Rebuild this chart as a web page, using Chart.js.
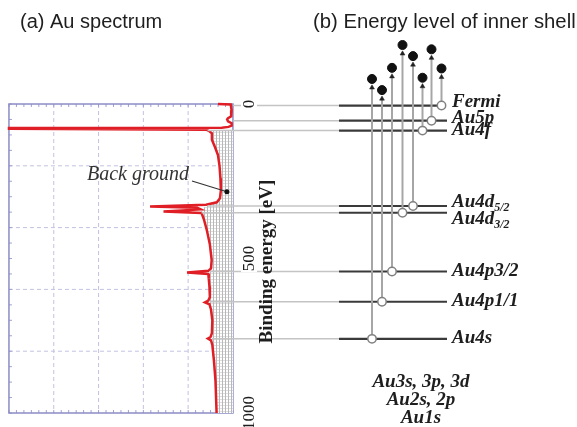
<!DOCTYPE html>
<html lang="en">
<head>
<meta charset="UTF-8"/>
<title>Au spectrum and inner shell levels</title>
<script src="https://cdn.jsdelivr.net/npm/chart.js"></script>
<style>
  body { margin: 0; background: #fff; }
  canvas { display: block; }
</style>
</head>
<body>
<canvas id="c" width="577" height="427"></canvas>
<script>
// (a) spectrum: binding energy [eV] and intensity (% of box width, peaks grow to the left)
const specEnergy = [0, 1.5, 20, 40, 46, 50, 56, 62, 70, 74,
    76.5, 77.5, 80, 83, 88, 95, 116, 140, 165, 200,
    240, 280, 305, 318, 326, 332, 336, 341, 348, 353,
    375, 410, 455, 505, 532, 540, 545, 550, 565, 590,
    625, 636, 642, 648, 665, 700, 742, 754, 759, 765,
    780, 830, 895, 1000];
const specIntensity = [6.7, 1.0, 0.6, 0.8, 2.2, 2.6, 2.2, 0.6, 0.6, 2.0,
    5.0, 100, 100, 12, 10.5, 9.4, 9.4, 8.0, 6.7, 6.0,
    5.6, 5.4, 5.8, 7.2, 12, 37, 16, 14.5, 31, 14,
    12.9, 11.6, 10.3, 9.5, 9.8, 11, 20.5, 11, 10.8, 10.5,
    10.3, 11, 12.5, 10.5, 9.8, 9.2, 9.4, 10, 11.2, 9.8,
    9.2, 8.5, 7.8, 7.3];
// background under the peaks (hatched area)
const bgEnergy = [83, 95, 116, 140, 165, 200, 240, 280, 305, 318,
    326, 335, 345, 353, 375, 410, 455, 505, 532, 545,
    565, 590, 625, 642, 665, 700, 742, 759, 780, 830,
    895, 1000];
const bgIntensity = [12, 9.4, 9.4, 8.0, 6.7, 6.0, 5.6, 5.4, 5.8, 7.2,
    10, 13, 14, 14, 12.9, 11.6, 10.3, 9.5, 9.8, 10.5,
    10.8, 10.5, 10.3, 10.3, 9.8, 9.2, 9.4, 9.4, 9.2, 8.5,
    7.8, 7.3];

// (b) inner shell levels, '|' marks a subscript
const levelNames = ['Fermi', 'Au5p', 'Au4f', 'Au4d|5/2', 'Au4d|3/2', 'Au4p3/2', 'Au4p1/1', 'Au4s'];
const levelEnergy = [5, 54, 86, 330, 352, 542, 640, 760];
// height of each emitted electron on the same energy axis
const electronEnergy = [-115, -177, -85, -155, -191, -117, -45, -81];
const deepLevels = ['Au3s, 3p, 3d', 'Au2s, 2p', 'Au1s'];

const energyTicks = [0, 500, 1000];
const gridEnergy = [200, 400, 600, 800];
const gridIntensity = [20, 40, 60, 80];

// layout of the diagram (pixels on the x scale)
const levelLeft = 339, levelRight = 447, fermiRight = 441;
const transX = [441.5, 431.5, 422.5, 413, 402.5, 392, 382, 372];
const labelX = 452;
const labelDy = [1.5, 2.5, 4.5, 1.5, 11, 4.5, 4.5, 4.5];
const arrowGap = 28;

const canvas = document.getElementById('c');
const ctx0 = canvas.getContext('2d');

// fine grey hatch for the background area
const pat = document.createElement('canvas');
pat.width = 3; pat.height = 3;
const pc = pat.getContext('2d');
pc.fillStyle = '#ffffff'; pc.fillRect(0, 0, 3, 3);
pc.fillStyle = '#b8b8b8'; pc.fillRect(0, 0, 1, 3);
pc.fillStyle = '#dedede'; pc.fillRect(1, 0, 2, 1);
const hatch = ctx0.createPattern(pat, 'repeat');

function bgAt(e) {
    if (e < bgEnergy[0]) return 0;
    for (let k = 1; k < bgEnergy.length; k++) {
        if (e <= bgEnergy[k]) {
            const f = (e - bgEnergy[k - 1]) / (bgEnergy[k] - bgEnergy[k - 1]);
            return bgIntensity[k - 1] + f * (bgIntensity[k] - bgIntensity[k - 1]);
        }
    }
    return bgIntensity[bgIntensity.length - 1];
}

const serif = '"Liberation Serif", "Times New Roman", serif';
const sans = '"Liberation Sans", Arial, sans-serif';

const diagram = {
    id: 'diagram',
    beforeDatasetsDraw(chart) {
        const {ctx, scales: {xi, y}} = chart;
        const l = xi.getPixelForValue(100), r = xi.getPixelForValue(0);
        const t = y.getPixelForValue(0), b = y.getPixelForValue(1000);
        ctx.save();
        ctx.strokeStyle = '#c2c2e2';
        ctx.lineWidth = 1;
        ctx.setLineDash([4, 3]);
        gridIntensity.forEach(v => {
            const px = xi.getPixelForValue(v);
            ctx.beginPath(); ctx.moveTo(px, t); ctx.lineTo(px, b); ctx.stroke();
        });
        gridEnergy.forEach(v => {
            const py = y.getPixelForValue(v);
            ctx.beginPath(); ctx.moveTo(l, py); ctx.lineTo(r, py); ctx.stroke();
        });
        ctx.setLineDash([]);
        ctx.strokeStyle = '#a0a0d4';
        for (let v = 0; v <= 100; v += 100 / 30) {
            const px = xi.getPixelForValue(v);
            ctx.beginPath(); ctx.moveTo(px, t); ctx.lineTo(px, t + 3); ctx.stroke();
            ctx.beginPath(); ctx.moveTo(px, b); ctx.lineTo(px, b - 3); ctx.stroke();
        }
        for (let e = 0; e <= 1000; e += 50) {
            const py = y.getPixelForValue(e);
            ctx.beginPath(); ctx.moveTo(l, py); ctx.lineTo(l + 3, py); ctx.stroke();
        }
        ctx.strokeStyle = '#8c8cc6';
        ctx.lineWidth = 1.5;
        ctx.strokeRect(l, t, r - l, b - t);
        ctx.restore();
    },
    afterDatasetsDraw(chart) {
        const {ctx, scales: {x, xi, y}} = chart;
        ctx.save();
        ctx.strokeStyle = '#c4c4c4';
        ctx.lineWidth = 1.5;
        levelEnergy.forEach(e => {
            const py = y.getPixelForValue(e);
            ctx.beginPath();
            ctx.moveTo(xi.getPixelForValue(bgAt(e)), py);
            ctx.lineTo(x.getPixelForValue(levelLeft), py);
            ctx.stroke();
        });
        ctx.restore();
    },
    afterDraw(chart) {
        const {ctx, scales: {x, xi, y}} = chart;
        ctx.save();
        ctx.fillStyle = '#1e1e1e';
        ctx.textBaseline = 'alphabetic';
        ctx.font = '20px ' + sans;
        ctx.fillText('(a) Au spectrum', 20, 28);
        ctx.font = '20.3px ' + sans;
        ctx.fillText('(b) Energy level of inner shell', 313, 28);

        // background pointer
        ctx.font = 'italic 20px ' + serif;
        ctx.fillStyle = '#333';
        ctx.textAlign = 'right';
        ctx.fillText('Back ground', 189, 180);
        const dx = xi.getPixelForValue(2.7), dy = y.getPixelForValue(284);
        ctx.strokeStyle = '#333';
        ctx.lineWidth = 1.2;
        ctx.beginPath(); ctx.moveTo(192, 181); ctx.lineTo(dx, dy); ctx.stroke();
        ctx.fillStyle = '#111';
        ctx.beginPath(); ctx.arc(dx, dy, 2.5, 0, Math.PI * 2); ctx.fill();

        // energy axis, rotated
        const ax = 249;
        ctx.textAlign = 'center';
        ctx.textBaseline = 'middle';
        energyTicks.forEach(v => {
            const py = y.getPixelForValue(v);
            ctx.save();
            ctx.translate(ax, py);
            ctx.rotate(-Math.PI / 2);
            ctx.font = '17px ' + serif;
            const w = ctx.measureText(String(v)).width;
            ctx.fillStyle = '#fff';
            ctx.fillRect(-w / 2 - 1, -8, w + 2, 16);
            ctx.fillStyle = '#1e1e1e';
            ctx.fillText(String(v), 0, 1);
            ctx.restore();
        });
        ctx.save();
        ctx.translate(267, y.getPixelForValue(510));
        ctx.rotate(-Math.PI / 2);
        ctx.font = 'bold 19px ' + serif;
        ctx.fillStyle = '#1e1e1e';
        ctx.fillText('Binding energy [eV]', 0, 0);
        ctx.restore();

        // level labels
        ctx.textAlign = 'left';
        ctx.textBaseline = 'alphabetic';
        ctx.fillStyle = '#1e1e1e';
        levelNames.forEach((name, k) => {
            const py = y.getPixelForValue(levelEnergy[k]) + labelDy[k];
            const px = x.getPixelForValue(labelX);
            const parts = name.split('|');
            ctx.font = 'italic bold 19px ' + serif;
            ctx.fillText(parts[0], px, py);
            if (parts[1]) {
                const w = ctx.measureText(parts[0]).width;
                ctx.font = 'italic bold 12px ' + serif;
                ctx.fillText(parts[1], px + w, py + 4);
            }
        });
        ctx.textAlign = 'center';
        ctx.font = 'italic bold 19px ' + serif;
        deepLevels.forEach((s, k) => {
            ctx.fillText(s, x.getPixelForValue(421), 387 + k * 18);
        });
        ctx.restore();
    }
};

const datasets = [];
datasets.push({
    label: 'electrons',
    data: transX.map((px, k) => ({x: px, y: electronEnergy[k]})),
    pointRadius: 4.5, pointBackgroundColor: '#111', pointBorderColor: '#111',
    order: 0
});
datasets.push({
    label: 'arrows',
    data: transX.map((px, k) => ({x: px, y: electronEnergy[k] + arrowGap})),
    pointStyle: 'triangle', pointRadius: 2.8, pointBackgroundColor: '#222', pointBorderColor: '#222',
    pointBorderWidth: 0.5, order: 1
});
datasets.push({
    label: 'holes',
    data: transX.map((px, k) => ({x: px, y: levelEnergy[k]})),
    pointRadius: 4.2, pointBackgroundColor: '#fff', pointBorderColor: '#808080', pointBorderWidth: 1.5,
    order: 1
});
transX.forEach((px, k) => datasets.push({
    label: 'transition ' + k,
    data: [{x: px, y: levelEnergy[k]}, {x: px, y: electronEnergy[k] + arrowGap}],
    showLine: true, borderColor: '#a6a6a6', borderWidth: 2, pointRadius: 0, order: 3
}));
levelEnergy.forEach((e, k) => datasets.push({
    label: levelNames[k],
    data: [{x: levelLeft, y: e}, {x: k === 0 ? fermiRight : levelRight, y: e}],
    showLine: true, borderColor: '#3a3a3a', borderWidth: 2.2, pointRadius: 0, order: 4
}));
datasets.push({
    label: 'spectrum',
    xAxisID: 'xi',
    data: specEnergy.map((e, k) => ({x: specIntensity[k], y: e})),
    showLine: true, borderColor: '#e01e25', borderWidth: 2.5, pointRadius: 0, tension: 0,
    order: 5
});
datasets.push({
    label: 'background',
    xAxisID: 'xi',
    indexAxis: 'y',
    data: bgEnergy.map((e, k) => ({x: bgIntensity[k], y: e})),
    showLine: true, borderWidth: 0, borderColor: 'rgba(0,0,0,0)', backgroundColor: hatch,
    fill: {value: 0}, pointRadius: 0, order: 6
});

new Chart(canvas, {
    type: 'scatter',
    data: {datasets},
    options: {
        responsive: false,
        animation: false,
        layout: {padding: 0, autoPadding: false},
        plugins: {legend: {display: false}, tooltip: {enabled: false}},
        scales: {
            x: {type: 'linear', min: 0, max: 577, display: false},
            xi: {type: 'linear', axis: 'x', reverse: true, min: -153.6, max: 104, display: false},
            y: {type: 'linear', reverse: true, min: -336.6, max: 1045.3, display: false}
        }
    },
    plugins: [diagram]
});
</script>
</body>
</html>
